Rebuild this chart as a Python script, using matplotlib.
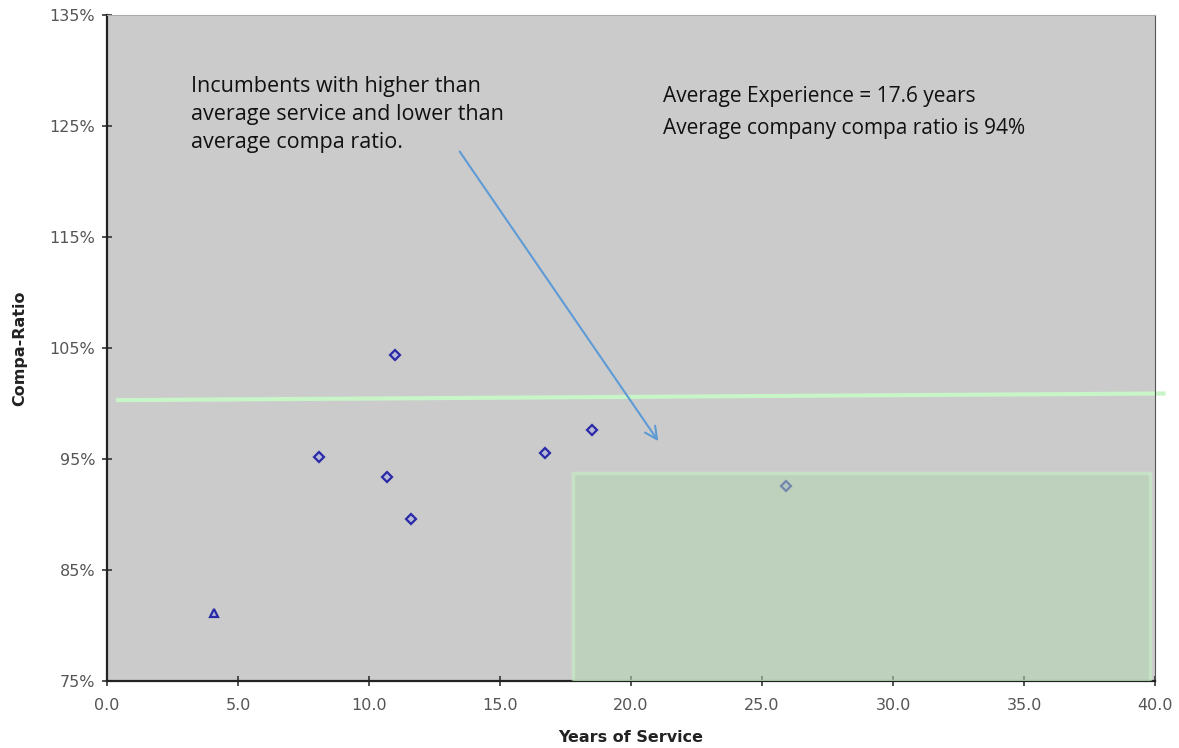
import numpy as np
import matplotlib.pyplot as plt
from matplotlib.patches import Rectangle
from matplotlib.ticker import FuncFormatter

# incumbents: years of service vs compa-ratio (%)
years_diamond = [8.1, 10.7, 11.0, 11.6, 16.7, 18.5, 25.9]
ratio_diamond = [95.2, 93.4, 104.4, 89.6, 95.5, 97.6, 92.6]
years_triangle = [4.1]
ratio_triangle = [81.1]

avg_years = 17.8
avg_ratio_box = 93.7
line_x = [0.35, 40.4]
line_y = [100.3, 100.9]

x_ticks = np.arange(0, 40.1, 5)
y_ticks = np.arange(75, 136, 10)

fig = plt.figure(figsize=(11.79, 7.48), dpi=100)
ax = fig.add_axes([0.0908, 0.0896, 0.8889, 0.8904])
ax.set_facecolor('#cbcbcb')

ax.plot(years_diamond, ratio_diamond, linestyle='none', marker='D', markersize=5,
        mfc='#b8b8d8', mec='#2a2aa8', mew=1.6, zorder=3)
ax.plot(years_triangle, ratio_triangle, linestyle='none', marker='^', markersize=6,
        mfc='#b8b8d8', mec='#2a2aa8', mew=1.6, zorder=3)

# highlighted region: above-average service, below-average ratio
box = Rectangle((avg_years, 75), 39.8 - avg_years, avg_ratio_box - 75,
                facecolor='#b2d6b2', alpha=0.55, edgecolor='#c8f2c8', lw=2.5, zorder=4)
ax.add_patch(box)

ax.plot(line_x, line_y, color='#c8f5c8', lw=3, clip_on=False, zorder=2,
        solid_capstyle='butt')

ax.annotate('', xy=(21.1, 96.4), xytext=(13.4, 122.9),
            arrowprops=dict(arrowstyle='->', color='#5e9bd6', lw=1.5,
                            mutation_scale=22), zorder=5)

ax.text(3.2, 129.5, 'Incumbents with higher than\naverage service and lower than\naverage compa ratio.',
        fontsize=15.5, family='Open Sans', color='#111111', va='top', ha='left',
        linespacing=1.45)
ax.text(21.2, 128.6, 'Average Experience = 17.6 years\nAverage company compa ratio is 94%',
        fontsize=15, family='Open Sans', color='#111111', va='top', ha='left',
        linespacing=1.7)

ax.set_xlim(0, 40)
ax.set_ylim(75, 135)
ax.set_xticks(x_ticks)
ax.set_yticks(y_ticks)
ax.xaxis.set_major_formatter(FuncFormatter(lambda v, p: f'{v:.1f}'))
ax.yaxis.set_major_formatter(FuncFormatter(lambda v, p: f'{v:.0f}%'))
ax.tick_params(direction='inout', length=7, width=1.2, colors='#333333',
               labelcolor='#555555', labelsize=11.5)
ax.tick_params(axis='x', pad=9)
ax.tick_params(axis='y', pad=5)

for side in ['left', 'bottom']:
    ax.spines[side].set_color('#222222')
    ax.spines[side].set_linewidth(1.6)
ax.spines['top'].set_color('#aaaaaa')
ax.spines['right'].set_color('#555555')
ax.spines['right'].set_linewidth(0.8)

ax.set_xlabel('Years of Service', fontsize=11.5, fontweight='bold', color='#222222', labelpad=12)
ax.set_ylabel('Compa-Ratio', fontsize=11.5, fontweight='bold', color='#222222', labelpad=16)

fig.savefig('out.png', dpi=100)
